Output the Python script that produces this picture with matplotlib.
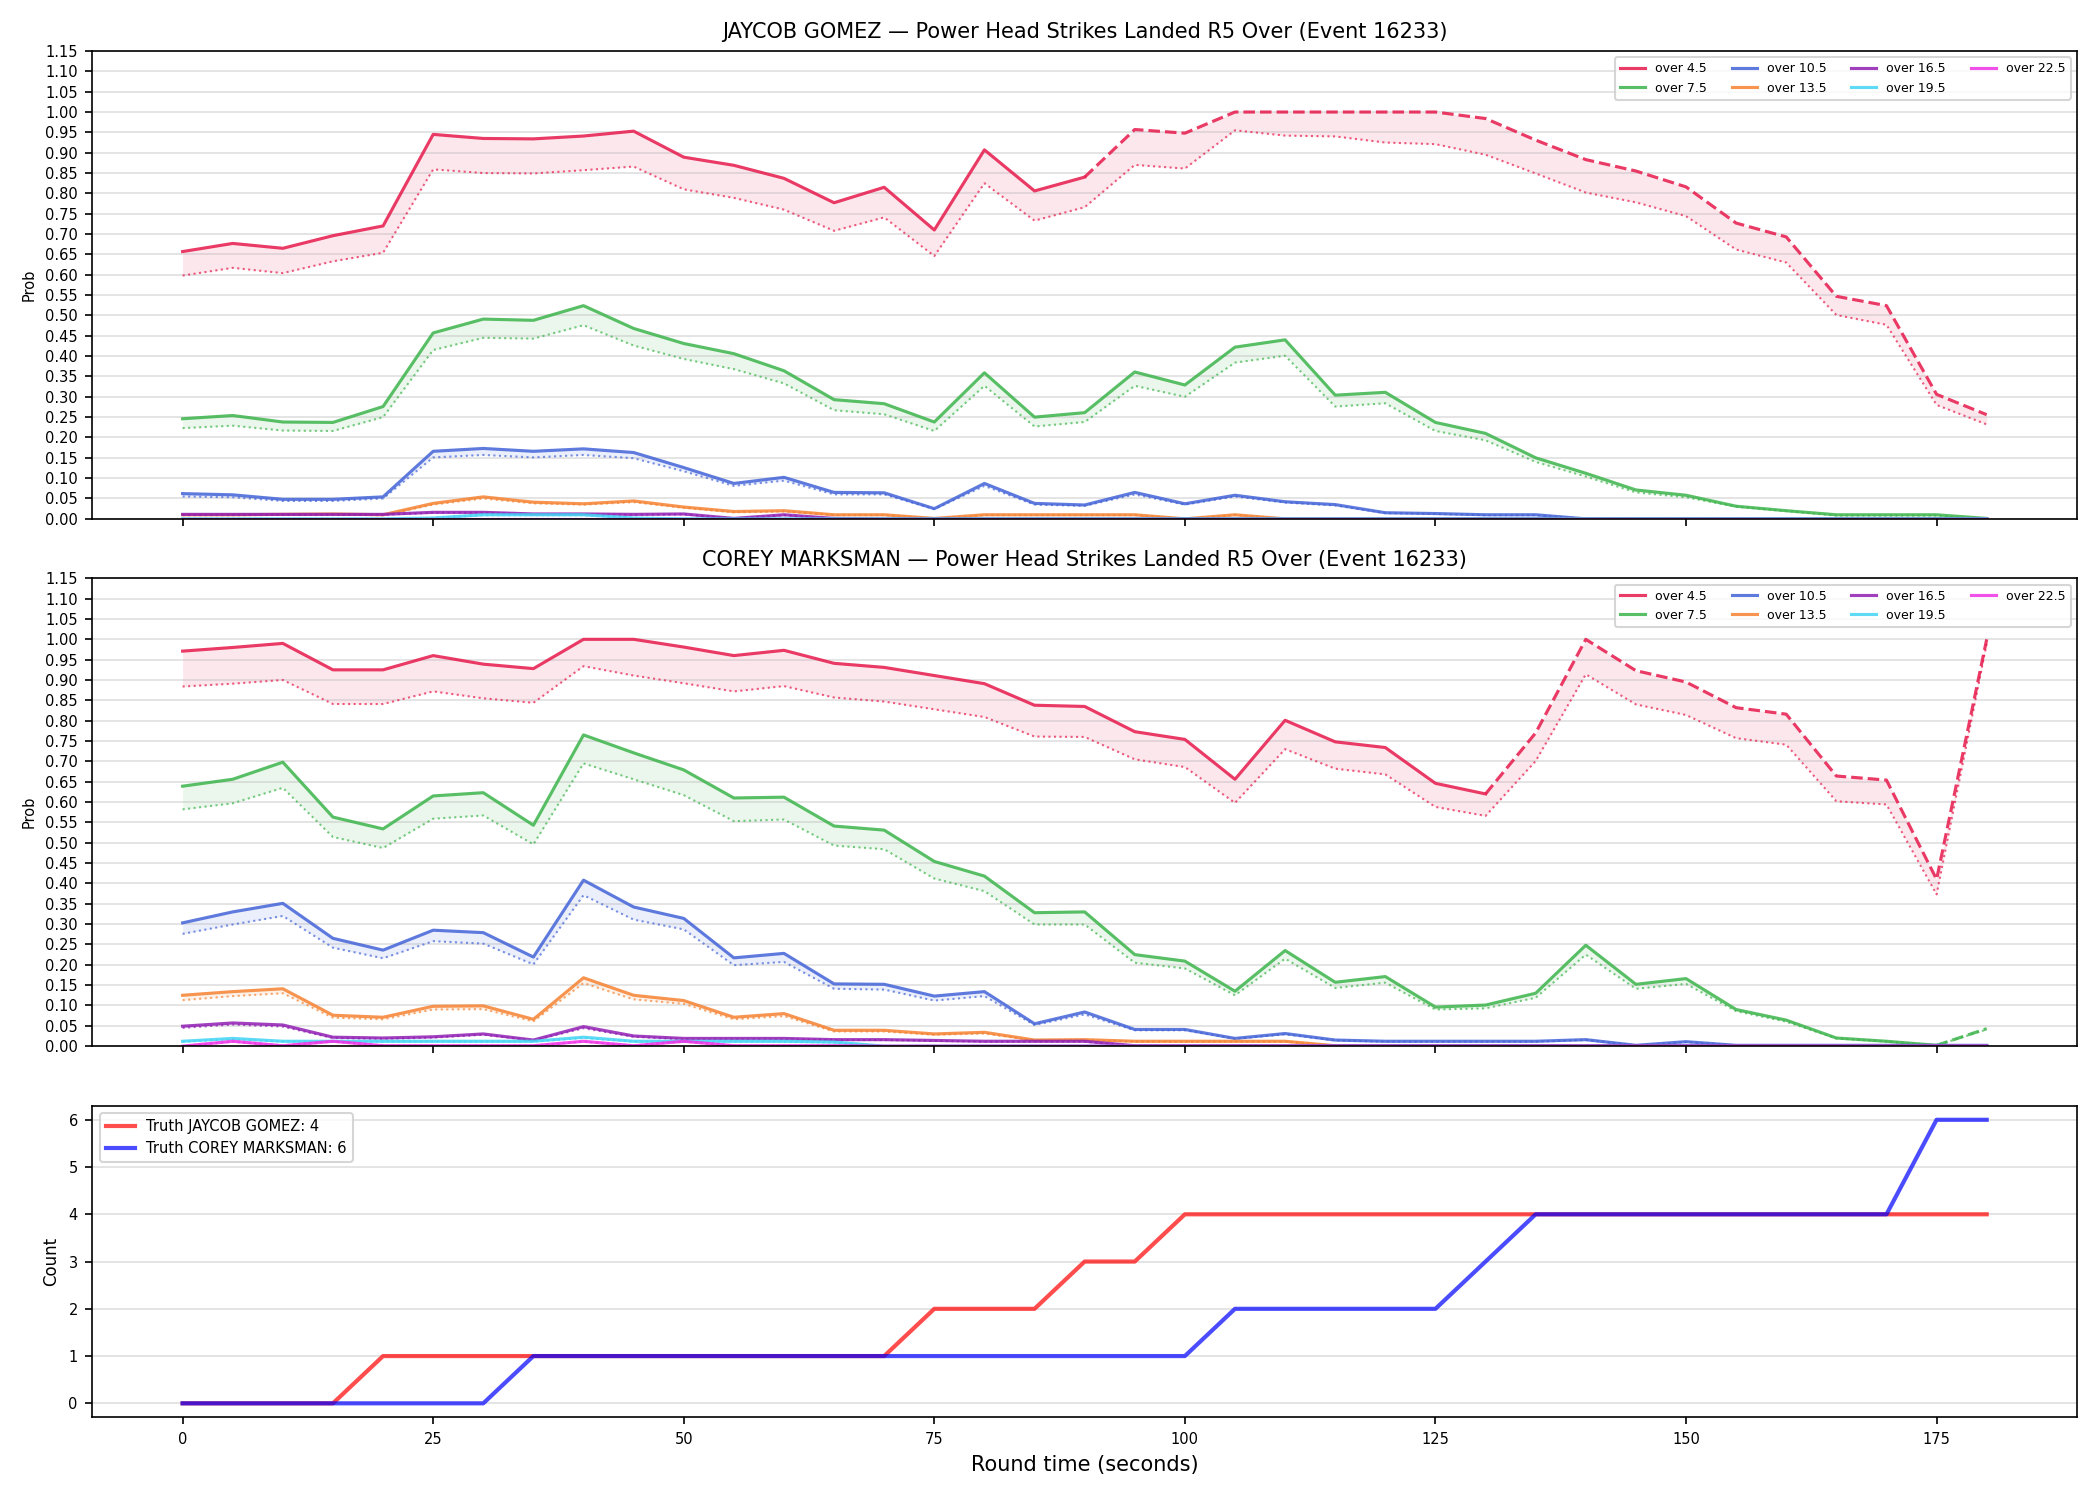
import matplotlib
matplotlib.use("Agg")
import matplotlib.pyplot as plt

EVENT = "16233"
MARKET = "Power Head Strikes Landed R5 Over"
FIGHTERS = ["JAYCOB GOMEZ", "COREY MARKSMAN"]
LINES = ["over 4.5", "over 7.5", "over 10.5", "over 13.5", "over 16.5", "over 19.5", "over 22.5"]
COLORS = ["#e6194b", "#3cb44b", "#4363d8", "#f58231", "#911eb4", "#42d4f4", "#f032e6"]

TIME = [0, 5, 10, 15, 20, 25, 30, 35, 40, 45, 50, 55, 60, 65, 70, 75, 80, 85, 90,
        95, 100, 105, 110, 115, 120, 125, 130, 135, 140, 145, 150, 155, 160, 165, 170, 175, 180]

# --- JAYCOB GOMEZ: prob (solid) and lower/fair prob (dotted) ---
G_O45 = [0.657, 0.677, 0.665, 0.696, 0.720, 0.945, 0.935, 0.934, 0.941, 0.953, 0.889, 0.869, 0.837,
         0.777, 0.815, 0.710, 0.907, 0.806, 0.840, 0.957, 0.948, 1.000, 1.000, 1.000, 1.000, 1.000,
         0.984, 0.931, 0.883, 0.855, 0.816, 0.727, 0.693, 0.547, 0.524, 0.306, 0.256]
G_O45_LO = [0.598, 0.617, 0.604, 0.633, 0.654, 0.859, 0.850, 0.849, 0.857, 0.866, 0.810, 0.789, 0.760,
            0.708, 0.741, 0.646, 0.825, 0.733, 0.766, 0.870, 0.861, 0.955, 0.942, 0.940, 0.925, 0.921,
            0.895, 0.849, 0.802, 0.778, 0.744, 0.662, 0.630, 0.501, 0.477, 0.280, 0.232]
G_O75 = [0.246, 0.254, 0.238, 0.237, 0.276, 0.457, 0.491, 0.488, 0.524, 0.468, 0.431, 0.406, 0.364,
         0.293, 0.283, 0.238, 0.359, 0.250, 0.261, 0.361, 0.329, 0.422, 0.440, 0.304, 0.311, 0.237,
         0.210, 0.150, 0.112, 0.071, 0.058, 0.031, 0.020, 0.010, 0.010, 0.010, 0.001]
G_O75_LO = [0.223, 0.229, 0.217, 0.216, 0.250, 0.415, 0.445, 0.443, 0.476, 0.426, 0.393, 0.368, 0.333,
            0.267, 0.257, 0.216, 0.327, 0.227, 0.238, 0.327, 0.300, 0.384, 0.401, 0.276, 0.284, 0.216,
            0.193, 0.140, 0.104, 0.065, 0.053, 0.030, 0.019, 0.008, 0.008, 0.008, 0.000]
G_O105 = [0.062, 0.059, 0.048, 0.048, 0.054, 0.166, 0.173, 0.166, 0.172, 0.163, 0.126, 0.087, 0.102,
          0.065, 0.064, 0.025, 0.087, 0.038, 0.034, 0.065, 0.037, 0.058, 0.042, 0.035, 0.015, 0.013,
          0.010, 0.010, 0.000, 0.000, 0.000, 0.000, 0.000, 0.000, 0.000, 0.000, 0.000]
G_O105_LO = [0.055, 0.053, 0.044, 0.044, 0.050, 0.151, 0.157, 0.151, 0.157, 0.149, 0.117, 0.081, 0.094,
             0.060, 0.060, 0.024, 0.081, 0.035, 0.032, 0.060, 0.035, 0.055, 0.040, 0.033, 0.014, 0.012,
             0.009, 0.009, 0.000, 0.000, 0.000, 0.000, 0.000, 0.000, 0.000, 0.000, 0.000]
G_O135 = [0.010, 0.010, 0.011, 0.012, 0.010, 0.038, 0.054, 0.041, 0.037, 0.044, 0.029, 0.018, 0.020,
          0.010, 0.010, 0.001, 0.010, 0.010, 0.010, 0.010, 0.000, 0.010, 0.000, 0.000, 0.000, 0.000,
          0.000, 0.000, 0.000, 0.000, 0.000, 0.000, 0.000, 0.000, 0.000, 0.000, 0.000]
G_O135_LO = [0.009, 0.009, 0.010, 0.011, 0.009, 0.035, 0.050, 0.038, 0.035, 0.041, 0.027, 0.016, 0.018,
             0.009, 0.009, 0.001, 0.009, 0.009, 0.009, 0.009, 0.000, 0.009, 0.000, 0.000, 0.000, 0.000,
             0.000, 0.000, 0.000, 0.000, 0.000, 0.000, 0.000, 0.000, 0.000, 0.000, 0.000]
G_O165 = [0.011, 0.011, 0.011, 0.011, 0.011, 0.016, 0.016, 0.012, 0.012, 0.011, 0.012, 0.001, 0.010,
          0.001, 0.000, 0.000, 0.000, 0.000, 0.000, 0.000, 0.000, 0.000, 0.000, 0.000, 0.000, 0.000,
          0.000, 0.000, 0.000, 0.000, 0.000, 0.000, 0.000, 0.000, 0.000, 0.000, 0.000]
G_O165_LO = [0.010, 0.010, 0.010, 0.010, 0.010, 0.015, 0.015, 0.011, 0.011, 0.010, 0.011, 0.001, 0.009,
             0.001, 0.000, 0.000, 0.000, 0.000, 0.000, 0.000, 0.000, 0.000, 0.000, 0.000, 0.000, 0.000,
             0.000, 0.000, 0.000, 0.000, 0.000, 0.000, 0.000, 0.000, 0.000, 0.000, 0.000]
G_O195 = [0.000, 0.000, 0.000, 0.000, 0.000, 0.002, 0.010, 0.010, 0.010, 0.002, 0.000, 0.000, 0.000,
          0.000, 0.000, 0.000, 0.000, 0.000, 0.000, 0.000, 0.000, 0.000, 0.000, 0.000, 0.000, 0.000,
          0.000, 0.000, 0.000, 0.000, 0.000, 0.000, 0.000, 0.000, 0.000, 0.000, 0.000]
G_O195_LO = [0.000, 0.000, 0.000, 0.000, 0.000, 0.002, 0.009, 0.009, 0.009, 0.002, 0.000, 0.000, 0.000,
             0.000, 0.000, 0.000, 0.000, 0.000, 0.000, 0.000, 0.000, 0.000, 0.000, 0.000, 0.000, 0.000,
             0.000, 0.000, 0.000, 0.000, 0.000, 0.000, 0.000, 0.000, 0.000, 0.000, 0.000]
G_O225 = [0.000, 0.000, 0.000, 0.000, 0.000, 0.000, 0.000, 0.000, 0.000, 0.000, 0.000, 0.000, 0.000,
          0.000, 0.000, 0.000, 0.000, 0.000, 0.000, 0.000, 0.000, 0.000, 0.000, 0.000, 0.000, 0.000,
          0.000, 0.000, 0.000, 0.000, 0.000, 0.000, 0.000, 0.000, 0.000, 0.000, 0.000]
G_O225_LO = G_O225

# --- COREY MARKSMAN ---
C_O45 = [0.971, 0.980, 0.990, 0.925, 0.925, 0.960, 0.939, 0.928, 1.000, 1.000, 0.981, 0.960, 0.973,
         0.941, 0.931, 0.911, 0.891, 0.838, 0.835, 0.773, 0.754, 0.656, 0.801, 0.748, 0.734, 0.646,
         0.620, 0.770, 1.000, 0.923, 0.895, 0.832, 0.816, 0.664, 0.654, 0.410, 1.000]
C_O45_LO = [0.884, 0.891, 0.900, 0.841, 0.841, 0.872, 0.855, 0.844, 0.934, 0.911, 0.892, 0.872, 0.885,
            0.857, 0.847, 0.828, 0.809, 0.761, 0.760, 0.705, 0.686, 0.598, 0.730, 0.682, 0.668, 0.588,
            0.566, 0.701, 0.914, 0.840, 0.814, 0.757, 0.741, 0.602, 0.594, 0.373, 0.990]
C_O75 = [0.639, 0.656, 0.698, 0.563, 0.534, 0.615, 0.623, 0.543, 0.765, 0.721, 0.679, 0.610, 0.612,
         0.541, 0.531, 0.454, 0.418, 0.328, 0.330, 0.225, 0.209, 0.135, 0.235, 0.157, 0.171, 0.096,
         0.101, 0.130, 0.248, 0.152, 0.166, 0.090, 0.064, 0.020, 0.012, 0.002, 0.043]
C_O75_LO = [0.582, 0.597, 0.635, 0.514, 0.487, 0.559, 0.567, 0.496, 0.695, 0.656, 0.617, 0.553, 0.557,
            0.493, 0.484, 0.412, 0.381, 0.299, 0.299, 0.205, 0.191, 0.125, 0.215, 0.143, 0.156, 0.090,
            0.093, 0.119, 0.225, 0.141, 0.153, 0.086, 0.060, 0.019, 0.011, 0.002, 0.041]
C_O105 = [0.303, 0.330, 0.351, 0.265, 0.236, 0.285, 0.279, 0.219, 0.408, 0.342, 0.314, 0.217, 0.228,
          0.153, 0.152, 0.123, 0.134, 0.055, 0.084, 0.041, 0.041, 0.019, 0.031, 0.015, 0.012, 0.012,
          0.012, 0.012, 0.016, 0.002, 0.011, 0.002, 0.002, 0.002, 0.002, 0.002, 0.002]
C_O105_LO = [0.276, 0.299, 0.320, 0.242, 0.216, 0.258, 0.252, 0.201, 0.371, 0.311, 0.287, 0.199, 0.207,
             0.141, 0.139, 0.112, 0.123, 0.052, 0.078, 0.039, 0.039, 0.018, 0.029, 0.014, 0.011, 0.011,
             0.011, 0.011, 0.015, 0.002, 0.010, 0.002, 0.002, 0.002, 0.002, 0.002, 0.002]
C_O135 = [0.125, 0.134, 0.141, 0.076, 0.071, 0.098, 0.099, 0.066, 0.168, 0.125, 0.112, 0.071, 0.080,
          0.039, 0.039, 0.030, 0.034, 0.015, 0.016, 0.012, 0.012, 0.012, 0.012, 0.001, 0.000, 0.000,
          0.000, 0.000, 0.000, 0.000, 0.000, 0.000, 0.000, 0.000, 0.000, 0.000, 0.000]
C_O135_LO = [0.113, 0.123, 0.130, 0.070, 0.066, 0.090, 0.091, 0.061, 0.155, 0.115, 0.104, 0.066, 0.074,
             0.036, 0.036, 0.028, 0.031, 0.014, 0.015, 0.011, 0.011, 0.011, 0.011, 0.001, 0.000, 0.000,
             0.000, 0.000, 0.000, 0.000, 0.000, 0.000, 0.000, 0.000, 0.000, 0.000, 0.000]
C_O165 = [0.049, 0.057, 0.052, 0.022, 0.020, 0.023, 0.030, 0.015, 0.048, 0.025, 0.019, 0.019, 0.019,
          0.016, 0.016, 0.014, 0.012, 0.012, 0.012, 0.001, 0.001, 0.001, 0.001, 0.001, 0.001, 0.001,
          0.001, 0.001, 0.001, 0.001, 0.001, 0.001, 0.001, 0.001, 0.001, 0.001, 0.001]
C_O165_LO = [0.045, 0.053, 0.048, 0.020, 0.018, 0.021, 0.028, 0.014, 0.044, 0.023, 0.017, 0.017, 0.017,
             0.015, 0.015, 0.013, 0.011, 0.011, 0.011, 0.001, 0.001, 0.001, 0.001, 0.001, 0.001, 0.001,
             0.001, 0.001, 0.001, 0.001, 0.001, 0.001, 0.001, 0.001, 0.001, 0.001, 0.001]
C_O195 = [0.012, 0.019, 0.012, 0.012, 0.012, 0.012, 0.012, 0.012, 0.022, 0.012, 0.012, 0.012, 0.012,
          0.010, 0.000, 0.000, 0.000, 0.000, 0.000, 0.000, 0.000, 0.000, 0.000, 0.000, 0.000, 0.000,
          0.000, 0.000, 0.000, 0.000, 0.000, 0.000, 0.000, 0.000, 0.000, 0.000, 0.000]
C_O195_LO = [0.011, 0.017, 0.011, 0.011, 0.011, 0.011, 0.011, 0.011, 0.020, 0.011, 0.011, 0.011, 0.011,
             0.009, 0.000, 0.000, 0.000, 0.000, 0.000, 0.000, 0.000, 0.000, 0.000, 0.000, 0.000, 0.000,
             0.000, 0.000, 0.000, 0.000, 0.000, 0.000, 0.000, 0.000, 0.000, 0.000, 0.000]
C_O225 = [0.000, 0.012, 0.001, 0.012, 0.001, 0.001, 0.001, 0.001, 0.012, 0.001, 0.012, 0.001, 0.001,
          0.001, 0.000, 0.000, 0.000, 0.000, 0.000, 0.000, 0.000, 0.000, 0.000, 0.000, 0.000, 0.000,
          0.000, 0.000, 0.000, 0.000, 0.000, 0.000, 0.000, 0.000, 0.000, 0.000, 0.000]
C_O225_LO = [0.000, 0.011, 0.001, 0.011, 0.001, 0.001, 0.001, 0.001, 0.011, 0.001, 0.011, 0.001, 0.001,
             0.001, 0.000, 0.000, 0.000, 0.000, 0.000, 0.000, 0.000, 0.000, 0.000, 0.000, 0.000, 0.000,
             0.000, 0.000, 0.000, 0.000, 0.000, 0.000, 0.000, 0.000, 0.000, 0.000, 0.000]

# time (s) from which a line is drawn dashed, per fighter / line
DASH_FROM = [{"over 4.5": 90}, {"over 4.5": 130, "over 7.5": 175}]

# running count of landed strikes
TRUTH_G = [0, 0, 0, 0, 1, 1, 1, 1, 1, 1, 1, 1, 1, 1, 1, 2, 2, 2, 3, 3, 4, 4, 4, 4, 4, 4, 4, 4, 4,
           4, 4, 4, 4, 4, 4, 4, 4]
TRUTH_C = [0, 0, 0, 0, 0, 0, 0, 1, 1, 1, 1, 1, 1, 1, 1, 1, 1, 1, 1, 1, 1, 2, 2, 2, 2, 2, 3, 4, 4,
           4, 4, 4, 4, 4, 4, 6, 6]

PROBS = [
    [(G_O45, G_O45_LO), (G_O75, G_O75_LO), (G_O105, G_O105_LO), (G_O135, G_O135_LO),
     (G_O165, G_O165_LO), (G_O195, G_O195_LO), (G_O225, G_O225_LO)],
    [(C_O45, C_O45_LO), (C_O75, C_O75_LO), (C_O105, C_O105_LO), (C_O135, C_O135_LO),
     (C_O165, C_O165_LO), (C_O195, C_O195_LO), (C_O225, C_O225_LO)],
]


def plot_fighter(ax, name, series, dash_from):
    for line, col, (hi, lo) in zip(LINES, COLORS, series):
        k = TIME.index(dash_from[line]) if line in dash_from else len(TIME) - 1
        ax.fill_between(TIME, lo, hi, color=col, alpha=0.1, lw=0)
        ax.plot(TIME, lo, color=col, ls=":", lw=1.0, alpha=0.7)
        ax.plot(TIME[:k + 1], hi[:k + 1], color=col, lw=1.5, alpha=0.85, label=line)
        if k < len(TIME) - 1:
            ax.plot(TIME[k:], hi[k:], color=col, lw=1.5, alpha=0.85, ls="--")
    ax.set_ylim(0, 1.15)
    ax.set_yticks([i * 0.05 for i in range(24)])
    ax.yaxis.set_major_formatter(matplotlib.ticker.FormatStrFormatter("%.2f"))
    ax.set_ylabel("Prob", fontsize=7)
    ax.set_title(f"{name} \u2014 {MARKET} (Event {EVENT})", fontsize=10)
    ax.grid(True, axis="y", alpha=0.4)
    ax.tick_params(labelsize=7)
    ax.legend(loc="upper right", ncol=4, fontsize=6)


fig, axes = plt.subplots(3, 1, figsize=(14, 10), sharex=True,
                         gridspec_kw={"height_ratios": [3, 3, 2]})
fig.subplots_adjust(left=0.044, right=0.989, bottom=0.055, top=0.966, hspace=0.143)

for i, name in enumerate(FIGHTERS):
    plot_fighter(axes[i], name, PROBS[i], DASH_FROM[i])

ax = axes[2]
ax.plot(TIME, TRUTH_G, color="red", alpha=0.7, lw=2, label=f"Truth {FIGHTERS[0]}: {TRUTH_G[-1]}")
ax.plot(TIME, TRUTH_C, color="blue", alpha=0.7, lw=2, label=f"Truth {FIGHTERS[1]}: {TRUTH_C[-1]}")
ax.set_ylabel("Count", fontsize=8)
ax.set_xlabel("Round time (seconds)", fontsize=10)
ax.grid(True, axis="y", alpha=0.4)
ax.tick_params(labelsize=7)
ax.legend(loc="upper left", fontsize=7)

fig.savefig("out.png", dpi=150)
plt.close(fig)
